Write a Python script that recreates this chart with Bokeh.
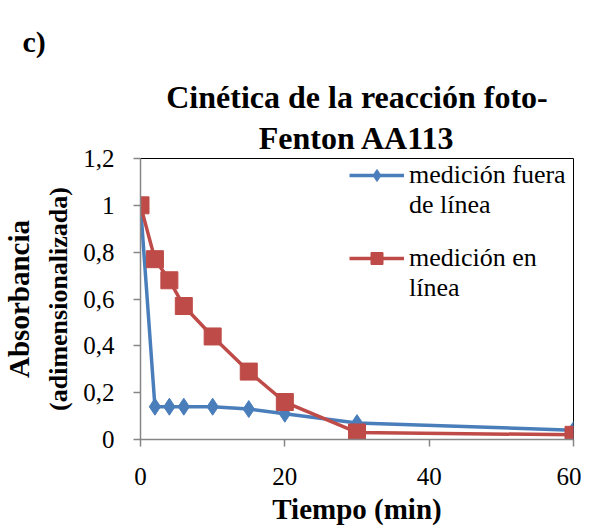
from bokeh.plotting import figure
from bokeh.models import Range1d, Legend, LegendItem, FixedTicker, Title
from bokeh.embed import file_html
from bokeh.resources import INLINE

tiempo = [0, 2, 4, 6, 10, 15, 20, 30, 60]
fuera_linea = [1.0, 0.14, 0.14, 0.14, 0.14, 0.13, 0.11, 0.07, 0.04]
en_linea = [1.0, 0.77, 0.68, 0.57, 0.44, 0.29, 0.16, 0.03, 0.02]
y_ticks = [0, 0.2, 0.4, 0.6, 0.8, 1.0, 1.2]
y_tick_labels = ["0", "0,2", "0,4", "0,6", "0,8", "1", "1,2"]
x_ticks = [0, 20, 40, 60]
serie_fuera = ["medición fuera", "de línea"]
serie_en = ["medición en", "línea"]

FONT = "Liberation Serif"
BLUE = "#4A7EBB"
RED = "#BE4B48"
GRAY = "#868686"

p = figure(width=581, height=531, output_backend="svg", toolbar_location=None,
           x_range=Range1d(0, 60), y_range=Range1d(0, 1.2),
           min_border_left=139, min_border_right=8, min_border_top=158, min_border_bottom=92)
p.background_fill_color = "white"
p.border_fill_color = "white"
p.outline_line_color = "black"
p.outline_line_width = 1
p.xgrid.visible = False
p.ygrid.visible = False

for ax in (p.xaxis, p.yaxis):
    ax.axis_line_color = GRAY
    ax.axis_line_width = 1.5
    ax.major_tick_line_color = GRAY
    ax.major_tick_line_width = 1.5
    ax.major_tick_out = 7
    ax.major_tick_in = 0
    ax.minor_tick_line_color = None
    ax.major_label_text_font = FONT
    ax.major_label_text_font_size = "25px"
    ax.major_label_text_color = "black"

p.yaxis.ticker = FixedTicker(ticks=y_ticks)
p.yaxis.major_label_overrides = {t: l for t, l in zip(y_ticks, y_tick_labels)}
p.yaxis.major_label_standoff = 19
p.xaxis.ticker = FixedTicker(ticks=x_ticks)
p.xaxis.major_label_standoff = 21
p.xaxis.axis_label = "Tiempo (min)"
p.xaxis.axis_label_text_font = FONT
p.xaxis.axis_label_text_font_size = "29px"
p.xaxis.axis_label_text_font_style = "bold"
p.xaxis.axis_label_text_color = "black"
p.xaxis.axis_label_standoff = 5

l1 = p.line(tiempo, fuera_linea, line_color=BLUE, line_width=3.5)
m1 = p.scatter(tiempo, fuera_linea, marker="diamond", size=17,
               fill_color=BLUE, line_color=BLUE)
l2 = p.line(tiempo, en_linea, line_color=RED, line_width=3.5)
m2 = p.scatter(tiempo, en_linea, marker="square", size=17, fill_color=RED, line_color=RED)
blank = p.line(x=[], y=[], line_alpha=0)

def mk_legend(labels, rends, loc):
    lg = Legend(items=[LegendItem(label=labels[0], renderers=rends),
                       LegendItem(label=labels[1], renderers=[blank])],
                location=loc)
    lg.label_text_font = FONT
    lg.label_text_font_size = "26px"
    lg.label_text_color = "black"
    lg.border_line_color = None
    lg.background_fill_alpha = 0
    lg.glyph_width = 55
    lg.glyph_height = 30
    lg.label_height = 30
    lg.spacing = 0
    lg.margin = 0
    lg.padding = 0
    lg.label_standoff = 5
    return lg

p.add_layout(mk_legend(serie_fuera, [l1, m1], (209, 219)))
p.add_layout(mk_legend(serie_en, [l2, m2], (209, 136)))

def mk_title(text, size, align="center", standoff=0, offset=0, style="bold"):
    return Title(text=text, align=align, text_font=FONT, text_font_size=size,
                 text_font_style=style, text_color="black", standoff=standoff, offset=offset,
                 text_line_height=0.6)

p.add_layout(mk_title("(adimensionalizada)", "26px", standoff=15), "left")
p.add_layout(mk_title("Absorbancia", "29px", standoff=0), "left")

p.add_layout(mk_title("Fenton AA113", "32px", standoff=5), "above")
p.add_layout(mk_title("Cinética de la reacción foto-", "32px", standoff=2), "above")
p.add_layout(mk_title("c)", "30px", align="left", standoff=36, offset=-118), "above")

open("out.html", "w").write(file_html(p, INLINE))
